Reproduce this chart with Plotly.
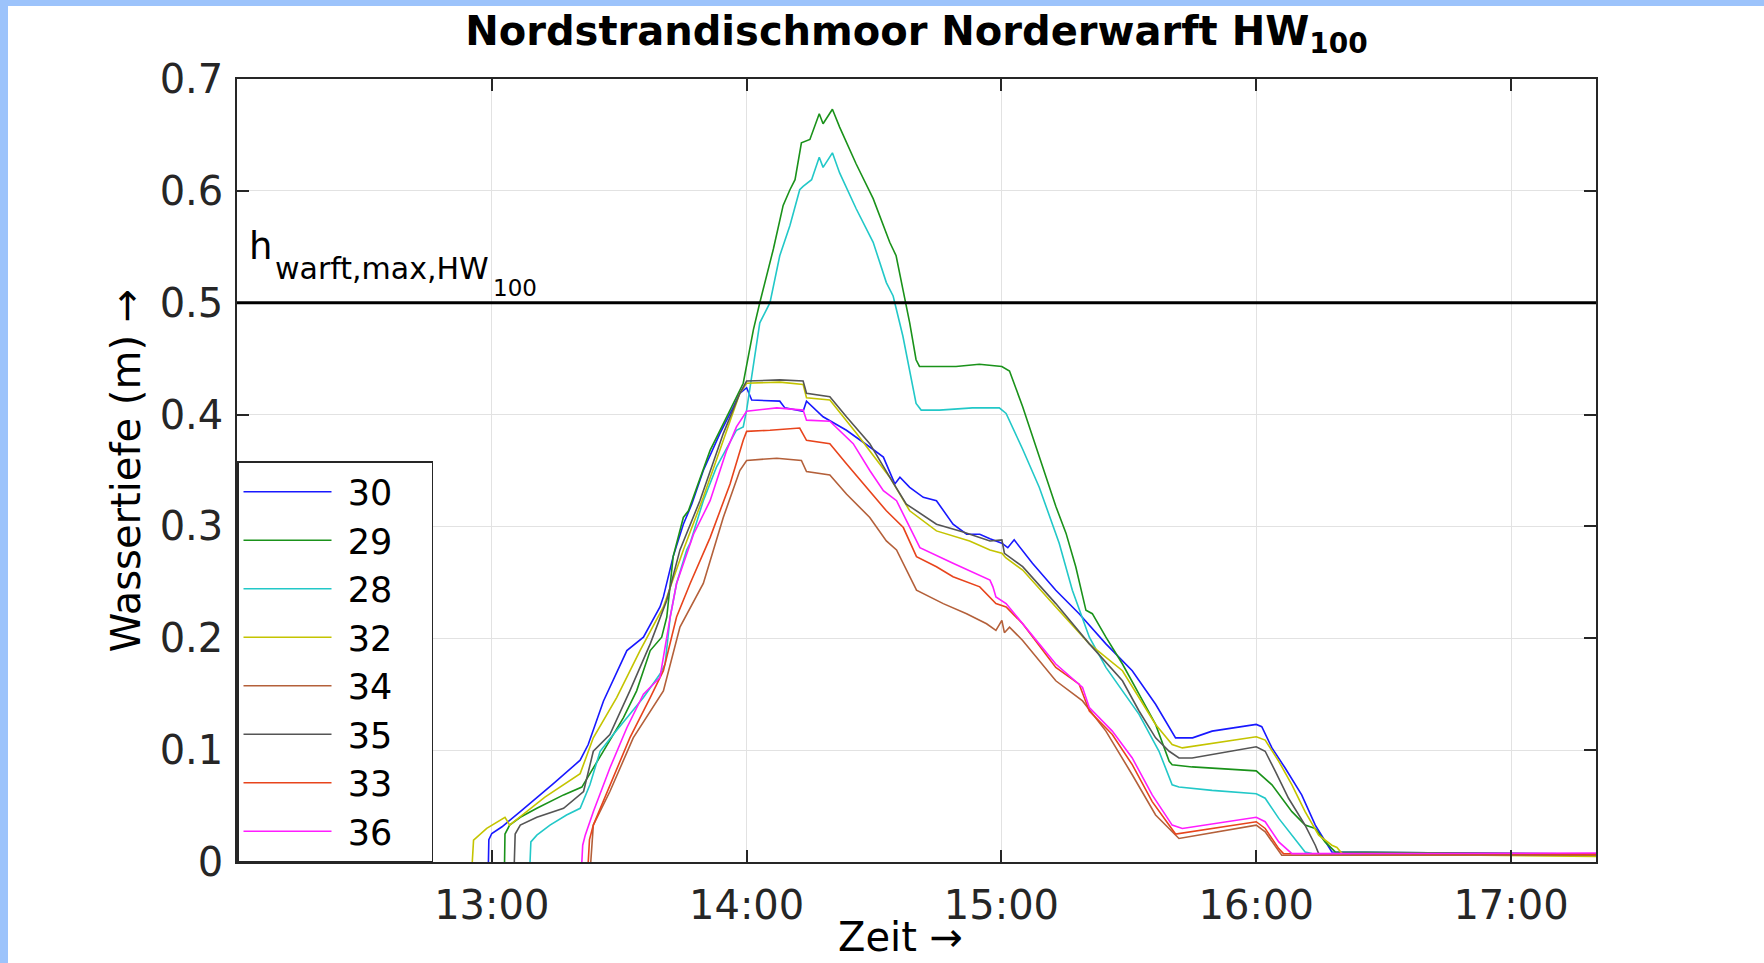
import pandas as pd
import plotly.graph_objects as go

# Zeit in Minuten nach 13:00, Wassertiefe in m
t_30 = [-0.8, -0.7, 0, 2.4, 6.7, 11.4, 14.5, 20.8, 22.7, 26.3,
        31.8, 35.7, 39.6, 40.4, 42.7, 45.1, 47.1, 49.8, 53.7, 56.9,
        58.4, 60, 61.2, 67.8, 69, 73.3, 74.1, 78, 83.5, 89,
        92.2, 94.9, 96.1, 98.4, 101.6, 104.7, 107, 108.6, 111.8, 114.9,
        117.3, 120.1, 121.5, 123.0, 127.3, 132.8, 138.3, 144.6, 150.8, 156.3,
        161.0, 165, 169.6, 180, 181.3, 183.7, 186.8, 190.7, 193.9, 197.8,
        260]
v_30 = [0, 0.02, 0.0255, 0.0315, 0.045, 0.060, 0.070, 0.091, 0.105, 0.144,
        0.189, 0.201, 0.228, 0.237, 0.273, 0.302, 0.320, 0.350, 0.383, 0.407,
        0.419, 0.424, 0.413, 0.412, 0.406, 0.403, 0.412, 0.398, 0.386, 0.371,
        0.362, 0.338, 0.344, 0.335, 0.326, 0.323, 0.311, 0.302, 0.293, 0.293,
        0.289, 0.285, 0.281, 0.288, 0.267, 0.243, 0.222, 0.195, 0.171, 0.141,
        0.111, 0.111, 0.117, 0.123, 0.121, 0.102, 0.084, 0.060, 0.033, 0.009,
        0.007]

t_29 = [3.0, 3.1, 4.2, 6.7, 10.6, 16.9, 21.2, 26.3, 31.0, 34.1,
        37.3, 40.0, 41.2, 42.7, 45.1, 46.3, 51.4, 56.1, 58.4, 59.2,
        61.6, 63.1, 66.3, 68.6, 70.2, 71.4, 72.9, 74.9, 77.1, 78.0,
        80.2, 81.9, 85.8, 89.8, 93.7, 95.2, 96.8, 98.4, 99.9, 100.7,
        109.3, 114.8, 120.1, 121.9, 125.0, 128.9, 132.8, 135.2, 137.5, 139.9,
        141.4, 144.6, 148.5, 152.4, 156.3, 159.5, 160.2, 164.9, 175.9, 180,
        183.7, 188.4, 191.5, 193.9, 196.2, 198.6, 260]
v_29 = [0, 0.025, 0.033, 0.040, 0.048, 0.060, 0.067, 0.099, 0.129, 0.153,
        0.189, 0.201, 0.219, 0.273, 0.308, 0.314, 0.368, 0.404, 0.422, 0.428,
        0.476, 0.500, 0.548, 0.587, 0.601, 0.610, 0.643, 0.646, 0.669, 0.660,
        0.673, 0.657, 0.624, 0.593, 0.554, 0.542, 0.512, 0.482, 0.449, 0.443,
        0.443, 0.445, 0.443, 0.439, 0.407, 0.363, 0.318, 0.294, 0.264, 0.225,
        0.222, 0.201, 0.177, 0.150, 0.123, 0.090, 0.087, 0.085, 0.082, 0.0815,
        0.069, 0.045, 0.033, 0.030, 0.018, 0.009, 0.007]

t_28 = [9.0, 9.2, 10.6, 13.7, 17.6, 20.8, 23.1, 25.5, 28.6, 32.5,
        35.7, 39.6, 40.8, 42.0, 43.5, 45.9, 46.7, 49.8, 52.9, 57.6,
        59.2, 60.0, 63.1, 65.5, 67.8, 70.2, 72.5, 73.3, 75.3, 77.1,
        78.0, 80.2, 81.9, 85.8, 89.8, 92.9, 94.5, 96.8, 98.4, 99.9,
        101.1, 105.4, 113.2, 119.5, 121.1, 125.0, 128.9, 133.6, 136.7, 139.9,
        140.7, 144.6, 152.4, 157.1, 160.2, 161.8, 169.6, 180, 182.1, 185.3,
        188.4, 191.5, 193.1, 260]
v_28 = [0, 0.018, 0.024, 0.033, 0.042, 0.048, 0.069, 0.099, 0.114, 0.132,
        0.147, 0.168, 0.177, 0.219, 0.249, 0.279, 0.285, 0.323, 0.353, 0.386,
        0.389, 0.404, 0.482, 0.500, 0.542, 0.569, 0.601, 0.604, 0.610, 0.630,
        0.621, 0.634, 0.616, 0.584, 0.554, 0.518, 0.506, 0.470, 0.440, 0.410,
        0.404, 0.404, 0.406, 0.406, 0.401, 0.369, 0.335, 0.285, 0.243, 0.210,
        0.201, 0.174, 0.132, 0.099, 0.069, 0.067, 0.064, 0.061, 0.057, 0.039,
        0.024, 0.009, 0.0075, 0.007]

t_32 = [-4.6, -4.3, -1.2, 3.1, 4.2, 12.5, 20.8, 23.9, 29.4, 34.9,
        40.4, 45.1, 49.8, 55.3, 58.4, 60, 67.8, 73.3, 74.1, 79.6,
        85.9, 93.7, 98.4, 104.7, 112.5, 117.3, 120.1, 121.0, 125.0, 132.8,
        140.7, 148.5, 152.4, 156.3, 160.2, 162.6, 180, 182.1, 185.3, 188.4,
        191.5, 194.7, 197.8, 199.0, 200.2, 260]
v_32 = [0, 0.0195, 0.030, 0.040, 0.033, 0.058, 0.079, 0.111, 0.147, 0.189,
        0.228, 0.279, 0.326, 0.386, 0.419, 0.428, 0.429, 0.427, 0.415, 0.413,
        0.383, 0.344, 0.314, 0.296, 0.287, 0.279, 0.276, 0.272, 0.261, 0.228,
        0.195, 0.171, 0.147, 0.123, 0.105, 0.102, 0.112, 0.109, 0.090, 0.069,
        0.045, 0.024, 0.015, 0.013, 0.0075, 0.005]

t_34 = [23.3, 23.9, 27.8, 33.3, 40.4, 44.3, 49.8, 54.5, 58.4, 60,
        67.1, 72.9, 74.1, 79.6, 83.5, 89.0, 92.9, 95.3, 100.0, 106.3,
        111.8, 116.5, 118.7, 120.1, 120.7, 121.9, 125, 132.8, 139.1, 144.6,
        150.8, 156.3, 161.8, 180, 182.1, 185.3, 186.0, 260]
v_34 = [0, 0.033, 0.063, 0.111, 0.153, 0.210, 0.249, 0.308, 0.350, 0.359,
        0.361, 0.359, 0.349, 0.346, 0.329, 0.308, 0.287, 0.279, 0.243, 0.231,
        0.222, 0.213, 0.207, 0.216, 0.205, 0.210, 0.198, 0.162, 0.144, 0.117,
        0.078, 0.042, 0.021, 0.033, 0.027, 0.009, 0.006, 0.006]

t_35 = [5.3, 5.5, 6.7, 10.6, 16.9, 21.6, 23.9, 27.8, 32.5, 37.3,
        41.2, 44.3, 49.0, 54.5, 58.4, 60, 67.8, 73.3, 74.1, 79.6,
        83.5, 89.0, 93.7, 97.6, 104.7, 111.0, 117.3, 120.1, 120.7, 125.0,
        132.8, 140.7, 148.5, 152.4, 156.3, 159.5, 161.8, 164.9, 180, 182.1,
        184.5, 187.6, 191.5, 193.9, 194.7, 260]
v_35 = [0, 0.025, 0.033, 0.040, 0.048, 0.063, 0.099, 0.114, 0.153, 0.195,
        0.234, 0.279, 0.323, 0.383, 0.419, 0.430, 0.431, 0.430, 0.419, 0.416,
        0.398, 0.374, 0.344, 0.320, 0.302, 0.295, 0.287, 0.288, 0.276, 0.264,
        0.231, 0.195, 0.162, 0.135, 0.111, 0.099, 0.093, 0.093, 0.103, 0.099,
        0.081, 0.057, 0.033, 0.015, 0.0075, 0.007]

t_33 = [22.7, 23.0, 23.9, 27.8, 32.5, 37.3, 40.4, 43.5, 46.7, 51.4,
        56.1, 59.2, 60, 65.5, 72.5, 74.1, 79.6, 83.5, 89.0, 92.9,
        96.9, 100.0, 104.7, 108.6, 114.9, 117.3, 118.7, 121.1, 125, 132.8,
        138.3, 140.7, 146.1, 150.8, 155.5, 161.0, 180, 182.1, 185.3, 186.4,
        260]
v_33 = [0, 0.02, 0.033, 0.069, 0.111, 0.147, 0.171, 0.219, 0.249, 0.290,
        0.338, 0.377, 0.385, 0.386, 0.388, 0.377, 0.374, 0.356, 0.332, 0.314,
        0.299, 0.273, 0.264, 0.255, 0.246, 0.237, 0.231, 0.228, 0.213, 0.174,
        0.159, 0.135, 0.114, 0.087, 0.054, 0.025, 0.036, 0.030, 0.012, 0.0075,
        0.007]

t_36 = [21.2, 21.4, 22.0, 23.9, 27.8, 31.8, 35.7, 39.6, 42.0, 43.5,
        47.5, 51.4, 55.3, 57.6, 60, 67.1, 73.3, 74.1, 79.6, 85.1,
        89.0, 92.2, 95.3, 100.8, 108.6, 117.3, 118.0, 118.7, 121.1, 125.0,
        132.8, 139.1, 140.7, 146.1, 150.8, 155.5, 160.2, 162.6, 180, 182.1,
        185.3, 188.4, 260]
v_36 = [0, 0.015, 0.024, 0.045, 0.084, 0.120, 0.150, 0.165, 0.219, 0.249,
        0.293, 0.323, 0.368, 0.389, 0.403, 0.406, 0.404, 0.395, 0.394, 0.374,
        0.350, 0.332, 0.323, 0.281, 0.267, 0.252, 0.246, 0.237, 0.231, 0.213,
        0.177, 0.156, 0.138, 0.117, 0.093, 0.060, 0.033, 0.030, 0.040, 0.036,
        0.018, 0.0075, 0.008]

h_warft_max = 0.5
tick_labels = ["13:00", "14:00", "15:00", "16:00", "17:00"]

base = pd.Timestamp("2021-01-01 13:00")


def zeit(minuten):
    return base + pd.to_timedelta(minuten, unit="m")


series = [
    ("30", t_30, v_30, "#1818ff"),
    ("29", t_29, v_29, "#1a921a"),
    ("28", t_28, v_28, "#22c8c8"),
    ("32", t_32, v_32, "#c4c400"),
    ("34", t_34, v_34, "#b4603a"),
    ("35", t_35, v_35, "#555555"),
    ("33", t_33, v_33, "#e8441c"),
    ("36", t_36, v_36, "#ff1cff"),
]

nb = "\u00a0"
fig = go.Figure()
for name, t, v, color in series:
    fig.add_trace(go.Scatter(x=zeit(t), y=v, mode="lines", name=nb + name + nb * 3,
                             line=dict(color=color, width=1.6)))

fig.add_hline(y=h_warft_max, line=dict(color="black", width=3))

W, H = 1764, 963
L, R, T, B = 237, 168, 79, 101
PW, PH = W - L - R, H - T - B

# Beschriftung h_warft,max,HW100 (Index in drei Stufen)
for txt, px, size, shift in [("h", 247, 37, 33), ("warft,max,HW", 273, 30, 15), ("100", 491, 23, 0)]:
    fig.add_annotation(text=txt, xref="paper", x=(px - L) / PW, xanchor="left",
                       yref="y", y=h_warft_max, yanchor="bottom", yshift=shift,
                       showarrow=False, font=dict(size=size, color="black"))

fig.add_annotation(text="Zeit →", xref="paper", x=(900 - L) / PW, xanchor="center",
                   yref="paper", y=(PH + T - 937) / PH, yanchor="middle",
                   showarrow=False, font=dict(size=40, color="black"))

band = "#9cc3fb"
# hellblauer Fensterrand oben und links
fig.add_shape(type="rect", xref="paper", yref="paper", line_width=0, fillcolor=band,
              x0=-L / PW, x1=(W - L) / PW, y0=(PH + T - 6) / PH, y1=(PH + T) / PH)
fig.add_shape(type="rect", xref="paper", yref="paper", line_width=0, fillcolor=band,
              x0=-L / PW, x1=(8 - L) / PW, y0=-B / PH, y1=(PH + T) / PH)

axis_style = dict(
    showgrid=True, gridcolor="#e2e2e2", gridwidth=1,
    ticks="inside", ticklen=12, tickwidth=1.5, tickcolor="#262626",
    showline=True, linecolor="#262626", linewidth=1.5, mirror="ticks",
    zeroline=False, tickfont=dict(size=40, color="#262626"),
)

fig.update_xaxes(
    type="date", range=[zeit(-60), zeit(260)],
    tickvals=[zeit(60 * i) for i in range(len(tick_labels))], ticktext=tick_labels,
    ticklabelstandoff=7,
    **axis_style,
)
fig.update_yaxes(
    range=[0, 0.7], dtick=0.1, ticklabelstandoff=4,
    title=dict(text="Wassertiefe (m) →", font=dict(size=40, color="black"), standoff=7),
    **axis_style,
)

fig.update_layout(
    width=W, height=H, margin=dict(l=L, r=R, t=T, b=B),
    paper_bgcolor="white", plot_bgcolor="white",
    font=dict(family="DejaVu Sans", color="#262626"),
    title=dict(text="Nordstrandischmoor Norderwarft HW<sub>100</sub>",
               font=dict(size=40, color="black", weight="bold"),
               x=0.5, xref="paper", xanchor="center",
               y=1 - 31 / H, yref="container", yanchor="middle"),
    legend=dict(x=0, y=0, xanchor="left", yanchor="bottom", bgcolor="white",
                bordercolor="#262626", borderwidth=1.5, itemwidth=88,
                font=dict(size=35, color="black"), tracegroupgap=0),
    showlegend=True,
)

fig.write_html("out.html", config={"displayModeBar": False},
               post_script="document.body.style.margin='0';document.body.style.overflow='hidden';")
